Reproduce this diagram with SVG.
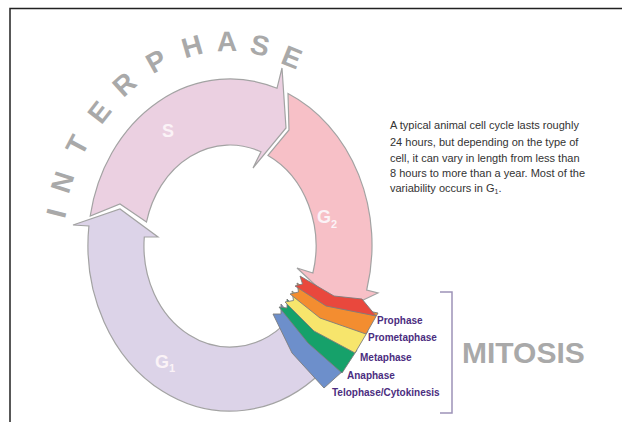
<svg xmlns="http://www.w3.org/2000/svg" width="622" height="422" viewBox="0 0 622 422">
<style>
.ring{stroke:#a3a3a3;stroke-width:1.2;stroke-linejoin:miter}
.m{stroke:#7d7d7d;stroke-width:0.9;stroke-linejoin:round}
.big{font-family:"Liberation Sans",Arial,sans-serif;font-weight:bold;fill:#a9a9a9}
.ip{font-size:28px;text-anchor:middle}
.lbl{font-family:"Liberation Sans",Arial,sans-serif;font-weight:bold;font-size:10px;fill:#4b2d80}
.ph{font-family:"Liberation Sans",Arial,sans-serif;font-weight:bold;font-size:18px;fill:#fbf3f7}
.note{font-family:"Liberation Sans",Arial,sans-serif;font-size:11px;fill:#333}
</style>
<rect width="622" height="422" fill="#fff"/>
<path d="M10,422 V8.5 H622" fill="none" stroke="#222" stroke-width="1.5"/>

<g id="interphase" class="big ip">
<text transform="translate(56,213) rotate(-76)" y="10">I</text>
<text transform="translate(62,182) rotate(-72)" y="10">N</text>
<text transform="translate(77,145) rotate(-62)" y="10">T</text>
<text transform="translate(99,112) rotate(-52)" y="10">E</text>
<text transform="translate(124,84) rotate(-42)" y="10">R</text>
<text transform="translate(156,61) rotate(-29)" y="10">P</text>
<text transform="translate(192,46) rotate(-16)" y="10">H</text>
<text transform="translate(227,41) rotate(-1)" y="10">A</text>
<text transform="translate(260,45) rotate(13)" y="10">S</text>
<text transform="translate(292,57) rotate(22)" y="10">E</text>
</g>

<g id="g1">
<path class="ring" fill="#dcd3e8" d="M282.9,325.6 L321.3,372.2 A142,166 0 0 1 88.9,226 L73,225 L120,209 L158,237 L144.3,237 A86,101 0 0 0 282.9,325.6 Z"/>
<text class="ph" x="155" y="368">G<tspan font-size="11" dy="4">1</tspan></text>
</g>

<g id="s">
<path class="ring" fill="#ebd0e1" d="M90.2,216 A142,166 0 0 1 277,88.3 L282,68 L286,128 L253,168 L261,151.8 A86,101 0 0 0 146.5,222 L120,204 Z"/>
<text class="ph" x="168" y="137" text-anchor="middle">S</text>
</g>

<g id="g2">
<path class="ring" fill="#f7c0c7" d="M288,93.5 A142,166 0 0 1 366.7,290 L378,293 L342,310 L297,268 L312.9,273 A86,101 0 0 0 268,155.4 L289,130 Z"/>
<text class="ph" x="317" y="223">G<tspan font-size="11" dy="5">2</tspan></text>
</g>

<g id="telophase">
<path class="m" fill="#6d8fcb" d="M281,304 L310,340 L344,370 L324,388 L292,353 L273,314 L281,314 Z"/>
<text class="lbl" x="332" y="396">Telophase/Cytokinesis</text>
</g>
<g id="anaphase">
<path class="m" fill="#16a16a" d="M287,299 L316,328 L357,350 L342,373 L308,343 L279,307 L287,308 Z"/>
<text class="lbl" x="347" y="379">Anaphase</text>
</g>
<g id="metaphase">
<path class="m" fill="#f7e56c" d="M292,291 L322,315 L368,331 L355,353 L314,331 L285,302 L293.5,300.5 Z"/>
<text class="lbl" x="360" y="361">Metaphase</text>
</g>
<g id="prometaphase">
<path class="m" fill="#f38d30" d="M297,283 L328,303 L378,313 L366,334 L320,318 L290,294 L298.5,292 Z"/>
<text class="lbl" x="368" y="341">Prometaphase</text>
</g>
<g id="prophase">
<path class="m" fill="#e9483d" d="M300,276 L334,296 L362,299 L376,316 L326,306 L295,286 L302.5,284 Z"/>
<text class="lbl" x="377" y="324">Prophase</text>
</g>

<g id="connectors">
<path d="M440,292 H452 V413 H440" fill="none" stroke="#9d93b8" stroke-width="1.5"/>
</g>

<g id="mitosis">
<text class="big" x="462" y="363" font-size="30">MITOSIS</text>
</g>

<g id="note" class="note">
<text x="390" y="129">A typical animal cell cycle lasts roughly</text>
<text x="390" y="146">24 hours, but depending on the type of</text>
<text x="390" y="162">cell, it can vary in length from less than</text>
<text x="390" y="177">8 hours to more than a year. Most of the</text>
<text x="390" y="192">variability occurs in G<tspan font-size="7" dy="2">1</tspan><tspan dy="-2">.</tspan></text>
</g>
</svg>
